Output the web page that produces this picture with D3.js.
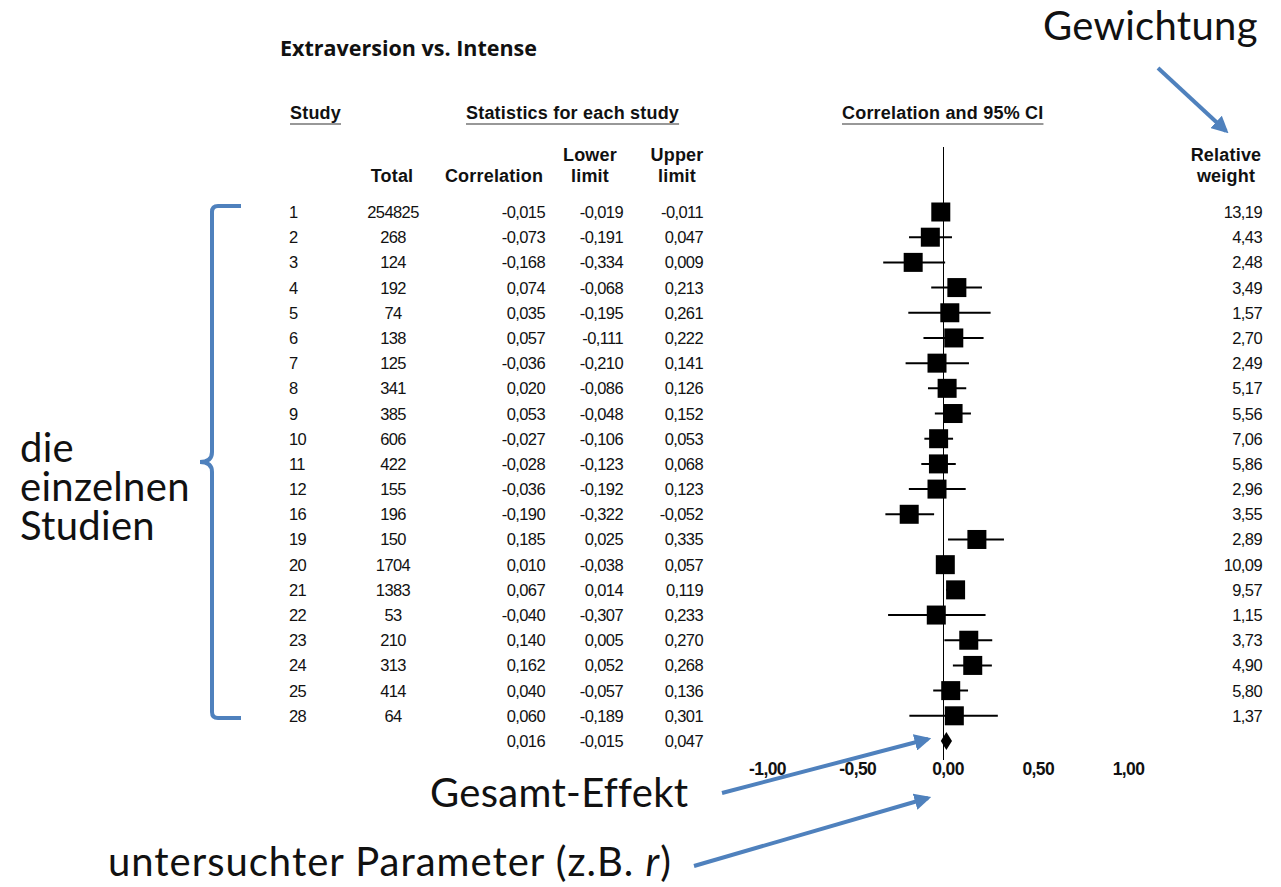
<!DOCTYPE html>
<html>
<head>
<meta charset="utf-8">
<script src="https://cdn.jsdelivr.net/npm/d3@7"></script>
<style>
  body { margin: 0; background: #fff; }
  .tbl { font-family: "Liberation Sans", Arial, sans-serif; font-size: 16.5px; letter-spacing: -0.6px; fill: #111; }
  .hdr { font-family: "Liberation Sans", Arial, sans-serif; font-size: 18px; font-weight: bold; letter-spacing: 0.2px; fill: #111; }
  .note { font-family: Lato, "Open Sans", sans-serif; font-size: 40px; letter-spacing: 0.3px; fill: #111; }
</style>
</head>
<body>
<svg width="1281" height="887"></svg>
<script>
var studies = ["1","2","3","4","5","6","7","8","9","10","11","12","16","19","20","21","22","23","24","25","28"];
var totals = [254825,268,124,192,74,138,125,341,385,606,422,155,196,150,1704,1383,53,210,313,414,64];
var correlations = [-0.015,-0.073,-0.168,0.074,0.035,0.057,-0.036,0.020,0.053,-0.027,-0.028,-0.036,-0.190,0.185,0.010,0.067,-0.040,0.140,0.162,0.040,0.060];
var lowers = [-0.019,-0.191,-0.334,-0.068,-0.195,-0.111,-0.210,-0.086,-0.048,-0.106,-0.123,-0.192,-0.322,0.025,-0.038,0.014,-0.307,0.005,0.052,-0.057,-0.189];
var uppers = [-0.011,0.047,0.009,0.213,0.261,0.222,0.141,0.126,0.152,0.053,0.068,0.123,-0.052,0.335,0.057,0.119,0.233,0.270,0.268,0.136,0.301];
var weights = [13.19,4.43,2.48,3.49,1.57,2.70,2.49,5.17,5.56,7.06,5.86,2.96,3.55,2.89,10.09,9.57,1.15,3.73,4.90,5.80,1.37];
var summary = { corr: 0.016, lower: -0.015, upper: 0.047 };
var tickValues = [-1, -0.5, 0, 0.5, 1];

var svg = d3.select("svg");
var blue = "#4f81bd";

var fmt3 = function (v) { return d3.format(".3f")(v).replace(".", ",").replace("−", "-"); };
var fmt2 = function (v) { return d3.format(".2f")(v).replace(".", ","); };

var data = studies.map(function (s, i) {
  return { study: s, total: totals[i], corr: correlations[i], lower: lowers[i], upper: uppers[i], weight: weights[i] };
});

// rows: 21 studies + summary
var y = d3.scalePoint().domain(d3.range(data.length + 1)).range([212, 741]);
var x = d3.scaleLinear().domain([-1, 1]).range([763, 1124]);

// title + headers
svg.append("text").attr("x", 280).attr("y", 56)
  .style("font-family", "'Open Sans', sans-serif").style("font-weight", "bold").style("font-size", "21.5px")
  .style("fill", "#111").text("Extraversion vs. Intense");

function underlined(txt, x0, yb) {
  var t = svg.append("text").attr("class", "hdr").attr("x", x0).attr("y", yb).text(txt);
  var w = t.node().getComputedTextLength();
  svg.append("line").attr("x1", x0).attr("x2", x0 + w).attr("y1", yb + 5).attr("y2", yb + 5)
    .attr("stroke", "#333").attr("stroke-width", 1.2);
}
underlined("Study", 290, 119);
underlined("Statistics for each study", 466, 119);
underlined("Correlation and 95% CI", 842, 119);

var heads = [
  { lines: ["Total"], cx: 392 },
  { lines: ["Correlation"], cx: 494 },
  { lines: ["Lower", "limit"], cx: 590 },
  { lines: ["Upper", "limit"], cx: 677 },
  { lines: ["Relative", "weight"], cx: 1226 }
];
heads.forEach(function (h) {
  h.lines.forEach(function (l, j) {
    svg.append("text").attr("class", "hdr").attr("text-anchor", "middle")
      .attr("x", h.cx).attr("y", 182 - (h.lines.length - 1 - j) * 21).text(l);
  });
});

// table columns
var rows = svg.append("g").selectAll("g").data(data).enter().append("g")
  .attr("transform", function (d, i) { return "translate(0," + (y(i) + 6) + ")"; });
rows.append("text").attr("class", "tbl").attr("x", 289).text(function (d) { return d.study; });
rows.append("text").attr("class", "tbl").attr("x", 393).attr("text-anchor", "middle").text(function (d) { return d.total; });
rows.append("text").attr("class", "tbl").attr("x", 545).attr("text-anchor", "end").text(function (d) { return fmt3(d.corr); });
rows.append("text").attr("class", "tbl").attr("x", 623).attr("text-anchor", "end").text(function (d) { return fmt3(d.lower); });
rows.append("text").attr("class", "tbl").attr("x", 703).attr("text-anchor", "end").text(function (d) { return fmt3(d.upper); });
rows.append("text").attr("class", "tbl").attr("x", 1262).attr("text-anchor", "end").text(function (d) { return fmt2(d.weight); });

var sy = y(data.length) + 6;
[[545, summary.corr], [623, summary.lower], [703, summary.upper]].forEach(function (c) {
  svg.append("text").attr("class", "tbl").attr("x", c[0]).attr("y", sy).attr("text-anchor", "end").text(fmt3(c[1]));
});

// forest plot
var plot = svg.append("g");
plot.append("line").attr("x1", x(0)).attr("x2", x(0)).attr("y1", 147).attr("y2", 760)
  .attr("stroke", "#000").attr("stroke-width", 1);

plot.selectAll(".ci").data(data).enter().append("line")
  .attr("x1", function (d) { return x(d.lower); })
  .attr("x2", function (d) { return x(d.upper); })
  .attr("y1", function (d, i) { return y(i); })
  .attr("y2", function (d, i) { return y(i); })
  .attr("stroke", "#000").attr("stroke-width", 2);

var sq = 19;
plot.selectAll(".pt").data(data).enter().append("rect")
  .attr("x", function (d) { return x(d.corr) - sq / 2; })
  .attr("y", function (d, i) { return y(i) - sq / 2; })
  .attr("width", sq).attr("height", sq).attr("fill", "#000");

var dy = y(data.length);
plot.append("path")
  .attr("d", "M" + x(summary.lower) + "," + dy + "L" + x(summary.corr) + "," + (dy - 9) +
    "L" + x(summary.upper) + "," + dy + "L" + x(summary.corr) + "," + (dy + 9) + "Z")
  .attr("fill", "#000");

var axis = d3.axisBottom(x).tickValues(tickValues).tickSize(0).tickPadding(0)
  .tickFormat(function (v) { return d3.format(".2f")(v).replace(".", ",").replace("−", "-"); });
var ag = svg.append("g").attr("transform", "translate(4,763)").call(axis);
ag.select(".domain").remove();
ag.selectAll("text").style("font-family", "'Liberation Sans', Arial, sans-serif")
  .style("font-weight", "bold").style("font-size", "17.5px").style("letter-spacing", "-0.6px").attr("fill", "#111");

// annotations
var defs = svg.append("defs");
defs.append("marker").attr("id", "ah").attr("viewBox", "0 0 10 10").attr("refX", 8).attr("refY", 5)
  .attr("markerWidth", 4.2).attr("markerHeight", 4.2).attr("orient", "auto")
  .append("path").attr("d", "M0,0L10,5L0,10Z").attr("fill", blue);

function arrow(x1, y1, x2, y2) {
  svg.append("line").attr("x1", x1).attr("y1", y1).attr("x2", x2).attr("y2", y2)
    .attr("stroke", blue).attr("stroke-width", 4).attr("marker-end", "url(#ah)");
}
arrow(1158, 68, 1226, 131);
arrow(722, 793, 928, 739);
arrow(694, 866, 928, 798);

svg.append("path")
  .attr("d", "M241,206 L218,206 Q212,206 212,212 L212,452 Q212,462 200,462 Q212,462 212,472 L212,712 Q212,718 218,718 L241,718")
  .attr("fill", "none").attr("stroke", blue).attr("stroke-width", 4);

svg.append("text").attr("class", "note").attr("x", 1043).attr("y", 40).text("Gewichtung");
var st = svg.append("text").attr("class", "note").attr("x", 20).attr("y", 462);
["die", "einzelnen", "Studien"].forEach(function (t, i) {
  st.append("tspan").attr("x", 20).attr("dy", i === 0 ? 0 : 39).text(t);
});
svg.append("text").attr("class", "note").attr("x", 430).attr("y", 807).text("Gesamt-Effekt");
var p = svg.append("text").attr("class", "note").attr("x", 108).attr("y", 876).style("letter-spacing", "1px");
p.append("tspan").text("untersuchter Parameter (z.B. ");
p.append("tspan").style("font-style", "italic").text("r");
p.append("tspan").text(")");
</script>
</body>
</html>
